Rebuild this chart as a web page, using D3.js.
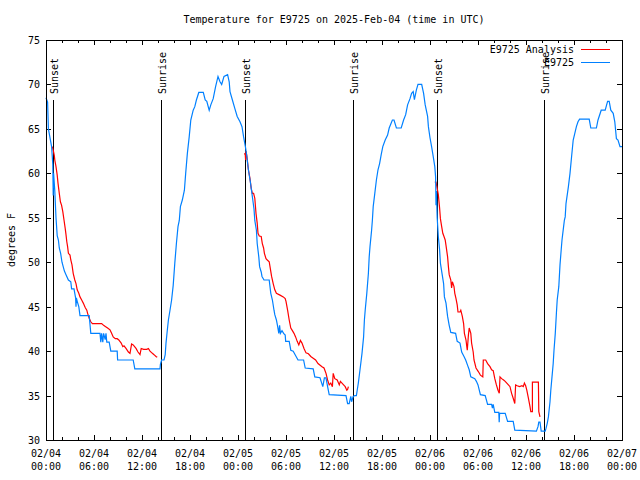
<!DOCTYPE html>
<html>
<head>
<meta charset="utf-8">
<script src="https://cdn.jsdelivr.net/npm/d3@7"></script>
<style>
  html, body { margin: 0; padding: 0; background: #fff; }
  svg { display: block; }
  text { font-family: "DejaVu Sans Mono", "Liberation Mono", monospace; font-size: 10px; fill: #000; }
</style>
</head>
<body>
<svg id="chart" width="640" height="480"></svg>
<script>
// ---------------- DATA ----------------
const chartTitle = "Temperature for E9725 on 2025-Feb-04 (time in UTC)";
const yLabel = "degrees F";
const seriesNames = ["E9725 Analysis", "E9725"];
const yTicks = [30, 35, 40, 45, 50, 55, 60, 65, 70, 75];
const xMajorTicks = [0, 6, 12, 18, 24, 30, 36, 42, 48, 54, 60, 66, 72]; // hours since 02/04 00:00 UTC
const xDateLabels = ["02/04","02/04","02/04","02/04","02/05","02/05","02/05","02/05","02/06","02/06","02/06","02/06","02/07"];
const xTimeLabels = ["00:00","06:00","12:00","18:00","00:00","06:00","12:00","18:00","00:00","06:00","12:00","18:00","00:00"];
const sunsetHours = [0.92, 24.93, 48.95];
const sunriseHours = [14.42, 38.41, 62.3];

// Observations E9725 : [hour, degF]
const obsSeries = [
  [0,68.5],[0.2,68],[0.3,65],[0.7,63],[0.85,61],[0.9,57.5],[0.95,60],[1.1,58],[1.25,55],[1.4,53],[1.55,52.5],
  [1.66,51.6],[1.83,51],[2.0,50],[2.3,49],[2.5,48.6],[2.8,48],[3.1,47.8],[3.2,47],[3.5,47],[3.7,46],[3.75,45],
  [3.8,46],[3.9,45.6],[4.1,45],[4.25,44],[5.4,44],[5.5,43],[5.6,42],[6.75,42],[6.85,41],[6.95,42],[7.1,41],
  [7.2,42],[7.4,41.3],[7.5,42],[7.6,41],[7.9,41],[8.1,40],[8.9,40],[8.95,39],[10.9,39],[11.1,38],[14.25,38],
  [14.3,38.5],[14.45,39],[14.75,39],[14.9,39.6],[15.0,40.9],[15.17,42.4],[15.3,43.5],[15.5,44.6],[15.7,45.75],
  [15.9,47.4],[16.1,49.9],[16.3,52.1],[16.5,54],[16.66,54.7],[16.8,56.25],[17.04,57],[17.3,58.1],[17.46,60],
  [17.67,62.25],[17.9,64.1],[18.1,66],[18.4,67.1],[18.6,67.5],[18.8,68.25],[19.1,69.1],[19.66,69.1],[19.9,68.25],
  [20.1,68.1],[20.4,67.1],[20.6,67.7],[20.9,68.4],[21.2,69.75],[21.5,70.9],[21.75,70.3],[21.96,70],[22.25,70.9],
  [22.7,71.1],[22.9,70.3],[23.0,69.2],[23.3,68.25],[23.6,67.3],[23.9,66.4],[24.25,65.8],[24.5,65.25],[24.7,64.1],
  [24.96,62.8],[25.1,61.9],[25.3,60.4],[25.55,59],[25.7,58],[25.85,57],[26.0,56],[26.1,54.7],[26.3,53.6],
  [26.4,52.1],[26.6,50.6],[26.7,49.5],[26.9,48.9],[27.0,48.4],[27.25,48],[27.9,48],[28.1,46.5],[28.3,45.75],
  [28.5,44.6],[28.6,44.1],[28.8,43.5],[28.96,42.75],[29.1,42],[29.2,42.9],[29.3,42],[29.5,42.3],[29.7,42],
  [29.9,41.8],[29.96,41.1],[30.4,41.1],[30.6,40.1],[30.9,40],[31.5,39],[32.2,39],[32.4,38.1],[33.4,38],
  [33.6,37.1],[34.25,37],[34.6,36],[34.8,37],[35.0,37],[35.2,36],[35.4,35.1],[37.5,35],[37.7,34.1],[37.9,34.1],
  [38.1,34.9],[38.2,34.3],[38.4,34.9],[38.6,35],[38.8,35],[38.9,35.6],[39.04,36.4],[39.25,37.9],[39.4,39],
  [39.5,39.75],[39.7,41.6],[39.8,43.5],[39.9,44.6],[40.1,46.5],[40.3,48.75],[40.4,50.6],[40.5,51.75],[40.7,53.6],
  [40.8,54.75],[40.9,56.25],[41.1,57.75],[41.3,59.25],[41.5,60.4],[41.7,61.1],[41.9,62.1],[42.1,63],[42.4,63.75],
  [42.7,64.3],[42.9,65.1],[43.3,66],[43.5,66],[43.8,65.1],[44.4,65.1],[44.7,66],[44.96,66.6],[45.2,67.7],
  [45.5,68.4],[45.7,69],[45.9,69.2],[46.05,68.3],[46.3,69.4],[46.5,70],[46.96,70],[47.2,69],[47.4,67.7],
  [47.7,66.4],[47.8,65.25],[48.0,64],[48.2,63],[48.4,61.9],[48.6,60.75],[48.7,59.6],[48.75,56.4],[48.8,58],
  [48.9,55],[49.04,52.9],[49.2,51.4],[49.3,49.9],[49.5,48.75],[49.7,47.6],[49.8,46.1],[50.0,45.4],[50.2,43.9],
  [50.4,42.9],[50.6,42.1],[51.2,42],[51.4,41.1],[51.75,40.9],[51.96,39.9],[52.25,39.4],[52.46,39],[52.7,38.4],
  [52.9,37.9],[53.1,37.1],[53.6,36.9],[53.8,36.6],[54.0,36.2],[54.3,35.1],[54.9,35],[55.2,34],[55.7,34],
  [55.8,33.6],[55.9,34],[56.1,33.1],[56.6,33.1],[56.65,32],[56.7,33],[57.4,33],[57.7,32.1],[58.4,32.1],
  [58.6,31.1],[61.3,31],[61.5,31.5],[61.6,32],[61.75,32],[61.9,31],[62.4,31],[62.5,31.3],[62.66,31.9],
  [62.8,32.6],[63.0,34.3],[63.1,35.6],[63.25,37.1],[63.4,38.6],[63.5,40.1],[63.66,42],[63.8,44.25],[63.9,45.75],
  [64.1,47.25],[64.25,49.7],[64.4,51.4],[64.5,52.5],[64.7,54],[64.8,54.75],[64.9,55.1],[65,56.6],[65.3,58.5],
  [65.5,60],[65.7,61.9],[65.9,63.75],[66.1,64.5],[66.3,65.25],[66.5,65.8],[66.7,66.1],[67.9,66.1],[68.1,65.1],
  [68.8,65.1],[69.0,66],[69.4,67.1],[69.9,67.1],[70.2,68.1],[70.4,68.1],[70.6,67.1],[70.9,66.75],[71.1,65.8],
  [71.3,63.9],[71.5,63.75],[71.75,63],[72,63]
];

// Analysis E9725 : [hour, degF], one array per night
const analysisNight1 = [
  [0.8,63],[0.95,62.4],[1.04,62],[1.1,61.5],[1.25,60.75],[1.4,59.8],[1.5,58.9],[1.66,57.75],[1.8,56.8],
  [1.95,56.4],[2.1,55.7],[2.25,54.75],[2.4,53.8],[2.5,53.1],[2.6,52.3],[2.7,51.75],[2.8,51],[3.0,50.8],
  [3.1,50.25],[3.25,49.7],[3.4,48.75],[3.6,48],[3.75,47.6],[3.9,46.9],[4.1,46.5],[4.25,46.1],[4.46,45.75],
  [4.66,45.4],[4.9,44.9],[5.1,44.6],[5.2,44.25],[5.4,43.7],[5.6,43.3],[5.8,43.1],[6.96,43.1],[7.2,42.9],
  [7.46,42.75],[7.7,42.6],[8.0,42.4],[8.2,42],[8.4,41.6],[8.66,41.4],[8.9,41.4],[9.1,41.25],[9.4,40.9],
  [9.6,40.5],[9.75,40.6],[10.0,40.3],[10.3,39.9],[10.5,39.75],[10.7,40.8],[10.9,40.7],[11.25,40.3],
  [11.5,39.9],[11.75,39.6],[11.9,40.3],[12.2,40.2],[12.6,40.2],[12.8,40.3],[13.0,40],[13.3,39.75],
  [13.5,39.6],[13.75,39.4],[13.9,39.3]
];
const analysisNight2 = [
  [24.75,62.2],[24.9,62.2],[24.95,61.5],[25.0,62.5],[25.1,62],[25.3,60.4],[25.5,59.4],[25.65,58.3],
  [25.8,57.75],[25.95,57.75],[26.1,57.2],[26.25,55.5],[26.4,54.4],[26.5,53.25],[26.66,52.95],[26.9,52.9],
  [27.04,52.1],[27.2,51.6],[27.3,51],[27.5,50.4],[27.66,50.25],[27.9,50.05],[28.0,49.5],[28.2,48.4],
  [28.4,47.6],[28.6,46.9],[28.8,46.5],[29.25,46.3],[29.66,46.1],[29.9,45.9],[30.0,45.6],[30.2,44.6],
  [30.4,43.5],[30.6,42.6],[30.8,42.3],[31.0,42],[31.2,41.6],[31.4,41.1],[31.6,40.7],[31.8,41.2],[32.0,40.9],
  [32.25,40.3],[32.5,39.8],[32.8,39.7],[33.1,39.4],[33.4,39.2],[33.7,39],[34.0,38.6],[34.5,38.25],
  [34.75,38.1],[35.0,37.5],[35.2,36.75],[35.4,36.2],[35.6,36.4],[35.8,36],[35.9,37.5],[36.1,36.9],
  [36.4,36.75],[36.66,36.2],[36.8,36.6],[37.2,36.2],[37.4,36],[37.6,35.6],[37.7,35.7],[37.8,36]
];
const analysisNight3 = [
  [48.6,59],[48.75,59],[48.9,58.3],[49.04,57.6],[49.2,56.1],[49.3,54.9],[49.46,54],[49.6,53.25],[49.75,52.9],
  [49.9,52.5],[50.0,51.9],[50.2,50.6],[50.3,49.5],[50.4,48.6],[50.6,48],[50.7,47.1],[50.8,47.8],[51.0,47.25],
  [51.1,46.5],[51.25,45.9],[51.4,45.2],[51.5,44.4],[51.75,44.4],[51.85,44.6],[52.04,43.9],[52.2,43.1],
  [52.3,42],[52.5,41.25],[52.6,40.5],[52.66,40.1],[52.8,41.8],[52.9,42.6],[53.1,42],[53.2,40.9],[53.4,39.9],
  [53.5,39],[53.75,38.1],[54.04,37.7],[54.3,37.3],[54.6,37.1],[54.66,39],[54.96,39],[55.2,38.6],[55.5,38.25],
  [55.7,37.9],[55.9,37.8],[56.1,36.9],[56.3,36.2],[56.5,35.6],[56.66,35.25],[56.75,37.1],[56.96,36.9],
  [57.2,36.75],[57.4,36.6],[57.6,36.4],[57.8,36.2],[58.0,36],[58.2,35.25],[58.4,34.7],[58.6,34.1],[58.7,36.2],
  [58.9,36.1],[59.2,36],[59.5,36.1],[59.66,36],[59.8,36.4],[59.96,36.1],[60.1,35.6],[60.3,34.7],[60.5,33.75],
  [60.6,33.2],[60.8,33.2],[60.8,36.5],[61.55,36.5],[61.6,33.2],[61.75,32.6]
];

// ---------------- DRAW ----------------
const svg = d3.select("#chart");
const plot = { left: 46, right: 622, top: 40, bottom: 440 };
const x = d3.scaleLinear().domain([0, 72]).range([plot.left, plot.right]);
const y = d3.scaleLinear().domain([30, 75]).range([plot.bottom, plot.top]);
const colors = { analysis: "#ff0000", obs: "#0080ff" };

svg.append("rect").attr("width", 640).attr("height", 480).attr("fill", "#fff");

// title
svg.append("text").attr("x", (plot.left + plot.right) / 2).attr("y", 23)
  .attr("text-anchor", "middle").text(chartTitle);

// y label
svg.append("text").attr("transform", `translate(15,${(plot.top + plot.bottom) / 2}) rotate(-90)`)
  .attr("text-anchor", "middle").text(yLabel);

// ticks via axes
const minorTicks = d3.range(0, 73, 2);
function tickAxis(axisFn, scale, vals, size, transform) {
  const g = svg.append("g").attr("transform", transform)
    .call(axisFn(scale).tickValues(vals).tickSizeInner(size).tickSizeOuter(0).tickFormat(""));
  g.select(".domain").remove();
  g.selectAll("line").attr("stroke", "#000").attr("shape-rendering", "crispEdges");
  return g;
}
tickAxis(d3.axisBottom, x, minorTicks, -3, `translate(0,${plot.bottom})`);
tickAxis(d3.axisBottom, x, xMajorTicks, -5, `translate(0,${plot.bottom})`);
tickAxis(d3.axisTop, x, minorTicks, -3, `translate(0,${plot.top})`);
tickAxis(d3.axisTop, x, xMajorTicks, -5, `translate(0,${plot.top})`);
tickAxis(d3.axisLeft, y, yTicks, -5, `translate(${plot.left},0)`);
tickAxis(d3.axisRight, y, yTicks, -5, `translate(${plot.right},0)`);

// y tick labels
svg.append("g").selectAll("text").data(yTicks).join("text")
  .attr("x", plot.left - 6).attr("y", d => y(d) + 4)
  .attr("text-anchor", "end").text(d => d);

// x tick labels (two lines)
const xl = svg.append("g").selectAll("g").data(xMajorTicks).join("g")
  .attr("transform", d => `translate(${x(d)},0)`);
xl.append("text").attr("y", 457).attr("text-anchor", "middle").text((d, i) => xDateLabels[i]);
xl.append("text").attr("y", 470).attr("text-anchor", "middle").text((d, i) => xTimeLabels[i]);

// sunrise / sunset markers
const markerTop = y(30 + 0.85 * 45);
const events = sunsetHours.map(h => ({ h, label: "Sunset" }))
  .concat(sunriseHours.map(h => ({ h, label: "Sunrise" })));
const ev = svg.append("g").selectAll("g").data(events).join("g");
ev.append("line")
  .attr("x1", d => Math.floor(x(d.h)) + 0.5).attr("x2", d => Math.floor(x(d.h)) + 0.5)
  .attr("y1", markerTop).attr("y2", plot.bottom)
  .attr("stroke", "#000").attr("stroke-width", 1).attr("shape-rendering", "crispEdges");
ev.append("text")
  .attr("transform", d => `translate(${Math.floor(x(d.h)) + 4.5},${markerTop - 6}) rotate(-90)`)
  .attr("text-anchor", "start").text(d => d.label);

// lines
const line = d3.line().x(d => x(d[0])).y(d => y(d[1]));
[analysisNight1, analysisNight2, analysisNight3].forEach(s => {
  svg.append("path").datum(s).attr("d", line)
    .attr("fill", "none").attr("stroke", colors.analysis).attr("stroke-width", 1.2);
});
svg.append("path").datum(obsSeries).attr("d", line)
  .attr("fill", "none").attr("stroke", colors.obs).attr("stroke-width", 1.2);

// legend
const legend = [
  { name: seriesNames[0], color: colors.analysis, yy: 49.5 },
  { name: seriesNames[1], color: colors.obs, yy: 62.5 }
];
const lg = svg.append("g").selectAll("g").data(legend).join("g");
lg.append("text").attr("x", 574).attr("y", d => d.yy + 3.5).attr("text-anchor", "end").text(d => d.name);
lg.append("line").attr("x1", 581).attr("x2", 610).attr("y1", d => d.yy).attr("y2", d => d.yy)
  .attr("stroke", d => d.color).attr("stroke-width", 1.2).attr("shape-rendering", "crispEdges");

// border
svg.append("rect").attr("x", plot.left + 0.5).attr("y", plot.top + 0.5)
  .attr("width", plot.right - plot.left).attr("height", plot.bottom - plot.top)
  .attr("fill", "none").attr("stroke", "#000").attr("stroke-width", 1).attr("shape-rendering", "crispEdges");
</script>
</body>
</html>
